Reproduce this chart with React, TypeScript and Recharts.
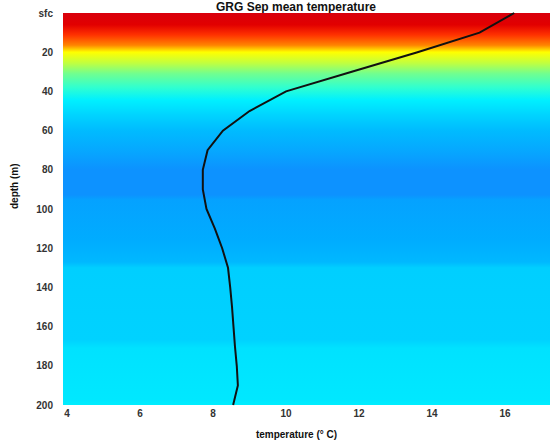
import { ComposedChart, Line, XAxis, YAxis, ReferenceArea } from 'recharts';

const depths = [0, 10, 20, 30, 40, 50, 60, 70, 80, 90, 100, 110, 120, 130, 140, 150, 160, 170, 180, 190, 200];
const temps = [16.25, 15.3, 13.6, 11.8, 10.0, 9.0, 8.27, 7.85, 7.72, 7.72, 7.82, 8.05, 8.25, 8.41, 8.47, 8.52, 8.56, 8.6, 8.65, 8.68, 8.55];
const tempTicks = [4, 6, 8, 10, 12, 14, 16];
const depthTicks = [0, 20, 40, 60, 80, 100, 120, 140, 160, 180, 200];

// background colour bands (offset from surface to 200 m, colour)
const bgStops: [number, string][] = [
  [0, '#d8000c'], [0.03, '#e20000'], [0.056, '#ff3200'], [0.082, '#ff8400'],
  [0.1, '#ffff00'], [0.128, '#c0ff40'], [0.155, '#70ff90'], [0.19, '#30ffd0'],
  [0.222, '#00f0ff'], [0.26, '#00d4ff'], [0.298, '#00bcff'], [0.35, '#06a8ff'],
  [0.4, '#0d92ff'], [0.464, '#0d92ff'], [0.477, '#05a2ff'], [0.579, '#00acff'],
  [0.635, '#00b8ff'], [0.65, '#00cfff'], [0.834, '#00d2ff'], [0.855, '#00e2ff'],
  [0.987, '#00e8ff'], [1, '#00eeff'],
];

const data = depths.map((d, i) => ({ depth: d, temp: temps[i] }));
const X_MIN = 3.89;
const X_MAX = 17.23;
const font = '"Liberation Sans", Arial, sans-serif';

export default function App() {
  return (
    <div style={{ position: 'absolute', left: 0, top: 0, width: 550, height: 441, background: '#fff', overflow: 'hidden', fontFamily: font }}>
      <div style={{ position: 'absolute', left: 0, top: 1, width: 592, textAlign: 'center', fontSize: 12, lineHeight: '12px', fontWeight: 'bold', color: '#111', whiteSpace: 'nowrap' }}>
        GRG Sep mean temperature
      </div>
      <ComposedChart
        width={550}
        height={441}
        data={data}
        layout="vertical"
        margin={{ top: 13, right: 0, bottom: 0, left: 0 }}
        style={{ position: 'absolute', left: 0, top: 0 }}
      >
        <defs>
          <linearGradient id="bgGrad" x1="0" y1="0" x2="0" y2="1">
            {bgStops.map(([o, c], i) => (
              <stop key={i} offset={o} stopColor={c} />
            ))}
          </linearGradient>
        </defs>
        <XAxis
          type="number"
          dataKey="temp"
          domain={[X_MIN, X_MAX]}
          ticks={tempTicks}
          allowDataOverflow
          axisLine={false}
          tickLine={false}
          tickSize={0}
          tickMargin={5}
          height={36}
          tick={{ fontSize: 10, fill: '#333', fontFamily: font, fontWeight: 'bold' }}
          label={{ value: 'temperature (° C)', position: 'insideBottom', offset: 3, dx: -10, fontSize: 10, fontWeight: 'bold', fill: '#111', fontFamily: font }}
        />
        <YAxis
          type="number"
          dataKey="depth"
          domain={[0, 200]}
          ticks={depthTicks}
          axisLine={false}
          tickLine={false}
          tickSize={0}
          tickMargin={10}
          width={63}
          tickFormatter={(v: number) => (v === 0 ? 'sfc' : String(v))}
          tick={{ fontSize: 10, fill: '#333', fontFamily: font, fontWeight: 'bold' }}
          label={{ value: 'depth (m)', angle: -90, position: 'insideLeft', offset: 14, fontSize: 10, fontWeight: 'bold', fill: '#111', fontFamily: font }}
        />
        <ReferenceArea x1={X_MIN} x2={X_MAX} y1={0} y2={200} fill="url(#bgGrad)" fillOpacity={1} stroke="none" />
        <Line
          dataKey="temp"
          type="linear"
          stroke="#111"
          strokeWidth={2}
          dot={false}
          isAnimationActive={false}
        />
      </ComposedChart>
    </div>
  );
}
